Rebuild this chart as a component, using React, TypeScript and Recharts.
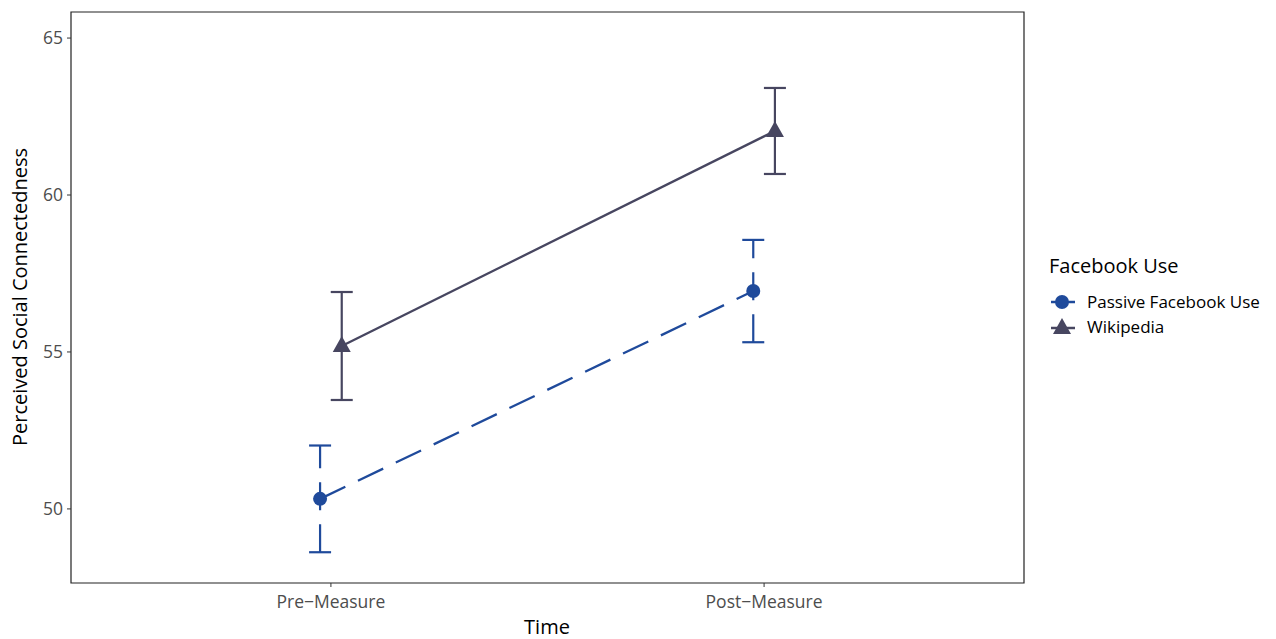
import React from 'react';
import { ComposedChart, Line, XAxis, YAxis, ErrorBar, ReferenceArea } from 'recharts';

// category positions (dodged a little, like ggplot position_dodge)
const timeLabels = ['Pre−Measure', 'Post−Measure'];
const passiveX = [0.975, 1.975];
const wikiX = [1.025, 2.025];

const passiveMean = [50.32, 56.94];
const passiveErr = [1.7, 1.63];
const wikiMean = [55.19, 62.04];
const wikiErr = [1.72, 1.37];

const yTicks = [50, 55, 60, 65];

const BLUE = '#1f4a9b';
const SLATE = '#474660';
const FONT = '"Open Sans", "Noto Sans", sans-serif';

const passiveData = passiveX.map((x, i) => ({ x, y: passiveMean[i], err: passiveErr[i] }));
const wikiData = wikiX.map((x, i) => ({ x, y: wikiMean[i], err: wikiErr[i] }));

const Triangle = (props: any) => {
  const { cx, cy } = props;
  if (cx == null || cy == null) return null;
  return <path d={`M${cx},${cy - 10} L${cx + 9},${cy + 6} L${cx - 9},${cy + 6} Z`} fill={SLATE} />;
};

const Circle = (props: any) => {
  const { cx, cy } = props;
  if (cx == null || cy == null) return null;
  return <circle cx={cx} cy={cy} r={7} fill={BLUE} />;
};

// legend drawn as a small svg overlay on the right
const ChartLegend = () => (
  <svg width={236} height={100} style={{ position: 'absolute', left: 1040, top: 250 }} fontFamily={FONT}>
    <text x={9} y={23} fontSize={20} fill="#000">Facebook Use</text>
    <line x1={11} y1={52} x2={35} y2={52} stroke={BLUE} strokeWidth={2.5} />
    <circle cx={22} cy={52} r={7} fill={BLUE} />
    <text x={47} y={58} fontSize={17} fill="#000">Passive Facebook Use</text>
    <line x1={11} y1={78} x2={35} y2={78} stroke={SLATE} strokeWidth={2.5} />
    <path d="M22,68 L31,84 L13,84 Z" fill={SLATE} />
    <text x={47} y={83} fontSize={17} fill="#000">Wikipedia</text>
  </svg>
);

const YTitle = () => (
  <text
    x={19}
    y={297}
    transform="rotate(-90 19 297)"
    textAnchor="middle"
    dominantBaseline="central"
    fill="#000"
    fontSize={20}
    fontFamily={FONT}
  >
    Perceived Social Connectedness
  </text>
);

const XTitle = () => (
  <text x={547} y={634} textAnchor="middle" fill="#000" fontSize={20} fontFamily={FONT}>
    Time
  </text>
);

export default function App() {
  return (
    <div style={{ position: 'absolute', left: 0, top: 0, width: 1276, height: 639, background: '#fff' }}>
      <ComposedChart width={1276} height={639} margin={{ top: 12, right: 252, bottom: 0, left: 0 }}>
        <XAxis
          type="number"
          dataKey="x"
          domain={[0.4, 2.6]}
          ticks={[1, 2]}
          tickFormatter={(v: number) => timeLabels[v - 1]}
          allowDataOverflow
          height={56}
          axisLine={false}
          tickLine={{ stroke: '#333' }}
          tickSize={4}
          tickMargin={9}
          tick={{ fill: '#4d4d4d', fontSize: 17.5, fontFamily: FONT }}
          label={<XTitle />}
        />
        <YAxis
          type="number"
          domain={[47.64, 65.83]}
          ticks={yTicks}
          allowDataOverflow
          width={71}
          axisLine={false}
          tickLine={{ stroke: '#333' }}
          tickSize={4}
          tickMargin={4}
          tick={{ fill: '#4d4d4d', fontSize: 17.5, fontFamily: FONT }}
          label={<YTitle />}
        />
        <ReferenceArea x1={0.4} x2={2.6} y1={47.64} y2={65.83} fill="none" stroke="#222" strokeWidth={1.2} />
        <Line
          data={wikiData}
          dataKey="y"
          name="Wikipedia"
          type="linear"
          stroke={SLATE}
          strokeWidth={2.3}
          dot={<Triangle />}
          activeDot={false}
          isAnimationActive={false}
        >
          <ErrorBar dataKey="err" width={11} stroke={SLATE} strokeWidth={2.2} direction="y" />
        </Line>
        <Line
          data={passiveData}
          dataKey="y"
          name="Passive Facebook Use"
          type="linear"
          stroke={BLUE}
          strokeWidth={2.3}
          strokeDasharray="28 14"
          dot={<Circle />}
          activeDot={false}
          isAnimationActive={false}
        >
          <ErrorBar dataKey="err" width={11} stroke={BLUE} strokeWidth={2.2} strokeDasharray="28 14" direction="y" />
        </Line>
      </ComposedChart>
      <ChartLegend />
    </div>
  );
}
